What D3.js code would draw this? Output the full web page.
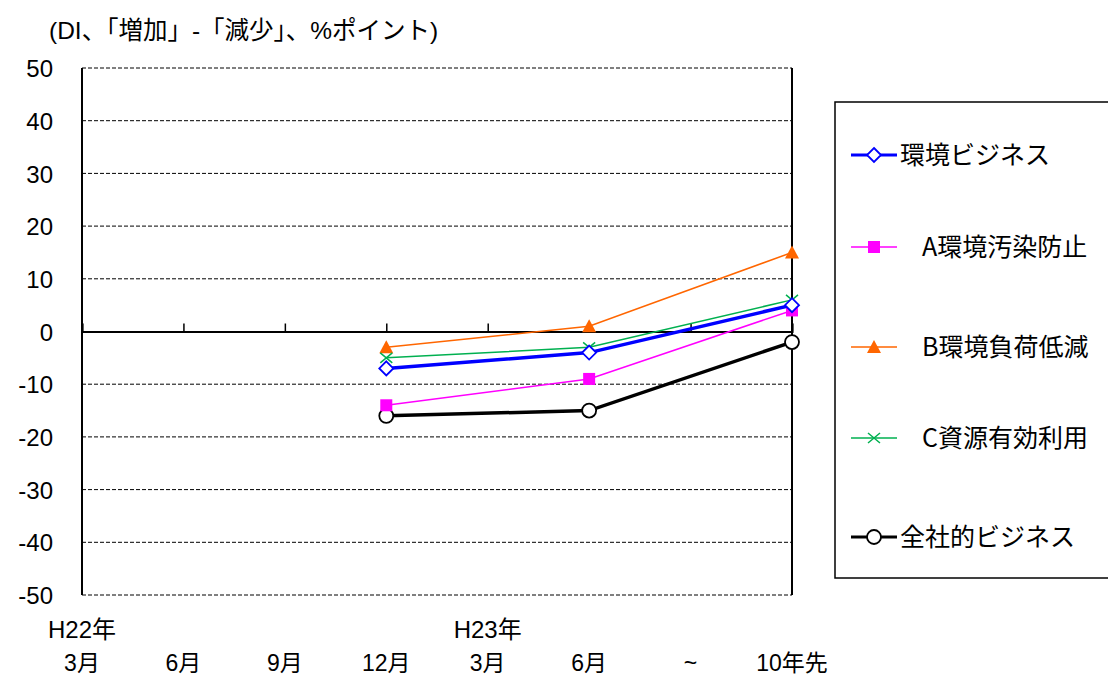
<!DOCTYPE html>
<html>
<head>
<meta charset="utf-8">
<script src="https://cdn.jsdelivr.net/npm/d3@7"></script>
<style>
  body { margin: 0; background: #fff; }
  svg text { font-family: "Liberation Sans", Arial, "Noto Sans CJK JP", sans-serif; }
</style>
</head>
<body>
<svg id="chart" width="1108" height="676"></svg>
<script>
// x categories (two label rows)
const monthLabels = ["3月", "6月", "9月", "12月", "3月", "6月", "~", "10年先"];
const yearLabels = ["H22年", "", "", "", "H23年", "", "", ""];
const yTicks = [50, 40, 30, 20, 10, 0, -10, -20, -30, -40, -50];

// series values (null = no survey)
const seriesNames = ["環境ビジネス", "A環境汚染防止", "B環境負荷低減", "C資源有効利用", "全社的ビジネス"];
const kankyo   = [null, null, null, -7, null, -4, null, 5];
const osen     = [null, null, null, -14, null, -9, null, 4];
const fuka     = [null, null, null, -3, null, 1, null, 15];
const shigen   = [null, null, null, -5, null, -3, null, 6];
const zensha   = [null, null, null, -16, null, -15, null, -2];

const svg = d3.select('#chart');
const margin = { top: 68, left: 82 },
    width = 710,
    height = 527;

const g = svg.append('g').attr('transform', `translate(${margin.left},${margin.top})`);

const x = d3.scalePoint().domain(d3.range(monthLabels.length)).range([0, width]);
const y = d3.scaleLinear().domain([-50, 50]).range([height, 0]);

// dashed gridlines
g.selectAll('.grid')
    .data(yTicks.filter(d => d !== 0))
    .enter().append('line')
    .attr('x1', 0).attr('x2', width)
    .attr('y1', d => y(d)).attr('y2', d => y(d))
    .attr('stroke', '#000')
    .attr('stroke-width', 1)
    .attr('stroke-dasharray', '4,2');

// left and right frame
g.append('line').attr('x1', 0).attr('x2', 0).attr('y1', 0).attr('y2', height)
    .attr('stroke', '#000').attr('stroke-width', 2);
g.append('line').attr('x1', width).attr('x2', width).attr('y1', 0).attr('y2', height)
    .attr('stroke', '#000').attr('stroke-width', 2);

// zero line with category ticks
const xAxis = g.append('g')
    .attr('transform', `translate(0,${y(0)})`)
    .call(d3.axisTop(x).tickSize(8).tickFormat(''));
xAxis.select('.domain').attr('stroke', '#000').attr('stroke-width', 2);
xAxis.selectAll('.tick line').attr('stroke', '#000').attr('stroke-width', 1.5);

// y axis labels (plain hyphen for negatives)
const yAxis = g.append('g')
    .call(d3.axisLeft(y).tickValues(yTicks).tickSize(0).tickPadding(29).tickFormat(d => String(d)));
yAxis.select('.domain').remove();
yAxis.selectAll('text')
    .style('font-family', '"Liberation Sans", Arial, sans-serif')
    .style('font-size', '24px')
    .style('fill', '#000')
    .attr('dy', '0.36em');

// x labels
g.selectAll('.xlab')
    .data(monthLabels)
    .enter().append('text')
    .attr('x', (d, i) => x(i))
    .attr('y', height + 76)
    .attr('text-anchor', 'middle')
    .style('font-size', '23px')
    .text(d => d);

g.selectAll('.ylab')
    .data(yearLabels)
    .enter().append('text')
    .attr('x', (d, i) => x(i))
    .attr('y', height + 43)
    .attr('text-anchor', 'middle')
    .style('font-size', '24px')
    .text(d => d);

// title
svg.append('text')
    .attr('x', 49).attr('y', 39)
    .style('font-size', '24.5px')
    .text('(DI、「増加」-「減少」、%ポイント)');

const styles = [
    { color: '#0000FF', width: 3.5, marker: 'diamond', indent: 0 },
    { color: '#FF00FF', width: 1.5, marker: 'square', indent: 22 },
    { color: '#FF6600', width: 1.5, marker: 'triangle', indent: 22 },
    { color: '#00B050', width: 1.5, marker: 'cross', indent: 22 },
    { color: '#000000', width: 3.5, marker: 'circle', indent: 0 }
];
const allSeries = [kankyo, osen, fuka, shigen, zensha];

function drawMarker(sel, st) {
    if (st.marker === 'diamond') {
        sel.append('path').attr('d', 'M0,-7L7,0L0,7L-7,0Z')
            .attr('fill', '#fff').attr('stroke', st.color).attr('stroke-width', 1.8);
    } else if (st.marker === 'square') {
        sel.append('rect').attr('x', -6).attr('y', -6).attr('width', 12).attr('height', 12)
            .attr('fill', st.color);
    } else if (st.marker === 'triangle') {
        sel.append('path').attr('d', 'M0,-7L7,6L-7,6Z').attr('fill', st.color);
    } else if (st.marker === 'cross') {
        sel.append('path').attr('d', 'M-6,-5L6,5M-6,5L6,-5')
            .attr('stroke', st.color).attr('stroke-width', 1.5);
    } else if (st.marker === 'circle') {
        sel.append('circle').attr('r', 7)
            .attr('fill', '#fff').attr('stroke', st.color).attr('stroke-width', 1.8);
    }
}

const line = d3.line()
    .defined(d => d.v !== null)
    .x(d => x(d.i))
    .y(d => y(d.v));

// black first, blue last
const order = [4, 1, 2, 3, 0];
order.forEach(k => {
    const pts = allSeries[k].map((v, i) => ({ i, v })).filter(d => d.v !== null);
    const st = styles[k];
    g.append('path')
        .datum(pts)
        .attr('fill', 'none')
        .attr('stroke', st.color)
        .attr('stroke-width', st.width)
        .attr('d', line);
    pts.forEach(d => {
        const m = g.append('g').attr('transform', `translate(${x(d.i)},${y(d.v)})`);
        drawMarker(m, st);
    });
});

// legend
const legend = svg.append('g').attr('transform', 'translate(835,102)');
legend.append('rect')
    .attr('width', 280).attr('height', 476)
    .attr('fill', '#fff').attr('stroke', '#000').attr('stroke-width', 1.5);

const legendY = [53, 145, 245, 336, 435];
seriesNames.forEach((name, k) => {
    const st = styles[k];
    const row = legend.append('g').attr('transform', `translate(0,${legendY[k]})`);
    row.append('line').attr('x1', 16).attr('x2', 62)
        .attr('stroke', st.color).attr('stroke-width', st.width === 3.5 ? 3 : 1.5);
    const m = row.append('g').attr('transform', 'translate(39,0)');
    drawMarker(m, st);
    row.append('text')
        .attr('x', 65 + st.indent).attr('y', 0).attr('dy', '0.36em')
        .style('font-family', '"Noto Sans CJK JP", sans-serif')
        .style('font-size', '25px')
        .text(name);
});
</script>
</body>
</html>
